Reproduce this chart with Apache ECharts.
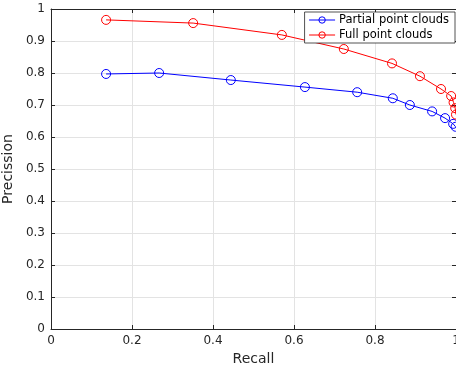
<!DOCTYPE html>
<html>
<head>
<meta charset="utf-8">
<script src="https://cdn.jsdelivr.net/npm/echarts@6/dist/echarts.min.js"></script>
<style>
  html, body { margin: 0; padding: 0; background: #fff; }
  #chart { width: 456px; height: 368px; }
</style>
</head>
<body>
<div id="chart"></div>
<script>
// values
var seriesNames = ["Partial point clouds", "Full point clouds"];
var recallPartial = [0.136, 0.267, 0.444, 0.627, 0.756, 0.844, 0.886, 0.941, 0.973, 0.993, 0.999];
var precisionPartial = [0.797, 0.800, 0.778, 0.756, 0.740, 0.721, 0.700, 0.680, 0.659, 0.641, 0.632];
var recallFull = [0.136, 0.351, 0.570, 0.723, 0.842, 0.911, 0.963, 0.988, 0.994, 0.998, 1.0];
var precisionFull = [0.966, 0.956, 0.919, 0.875, 0.830, 0.790, 0.750, 0.728, 0.708, 0.690, 0.670];
var xTickStep = 0.2;
var yTickStep = 0.1;

var axisColor = "#262626";
var font = "DejaVu Sans";

function pairs(xs, ys) {
    return xs.map(function (x, i) { return [x, ys[i]]; });
}

function baseAxis(extra) {
    var a = {
        type: "value",
        min: 0,
        max: 1,
        axisLine: { show: true, onZero: false, lineStyle: { color: axisColor, width: 1 } },
        axisTick: { show: true, inside: true, length: 4, lineStyle: { color: axisColor } },
        splitLine: { show: false },
        axisLabel: { show: false }
    };
    return Object.assign(a, extra);
}

var chart = echarts.init(document.getElementById("chart"), null, { renderer: "canvas" });

var option = {
    animation: false,
    backgroundColor: "#fff",
    textStyle: { fontFamily: font },
    grid: { left: 51, right: 0, top: 9, bottom: 39, containLabel: false, outerBoundsMode: "none" },
    legend: {
        data: seriesNames,
        orient: "vertical",
        right: 1,
        top: 12,
        itemWidth: 26,
        itemHeight: 8,
        itemGap: 3,
        padding: [2, 6, 2, 4],
        backgroundColor: "#fff",
        borderColor: axisColor,
        borderWidth: 0.8,
        borderRadius: 0,
        itemStyle: { borderWidth: 1, color: "rgba(255,255,255,0)" },
        lineStyle: { width: 1 },
        textStyle: { fontSize: 11.5, color: "#000", fontFamily: font, padding: [0, 0, 0, -1] }
    },
    xAxis: [
        baseAxis({
            position: "bottom",
            interval: xTickStep,
            name: "Recall",
            nameLocation: "middle",
            nameGap: 22,
            nameTextStyle: { fontSize: 14, color: axisColor, fontFamily: font },
            axisLabel: { show: true, color: axisColor, fontSize: 12, margin: 6, fontFamily: font },
            splitLine: { show: true, lineStyle: { color: "#e3e3e3", width: 1 } }
        }),
        baseAxis({ position: "top", interval: xTickStep })
    ],
    yAxis: [
        baseAxis({
            position: "left",
            interval: yTickStep,
            name: "Precission",
            nameLocation: "middle",
            nameGap: 26,
            nameTextStyle: { fontSize: 14, color: axisColor, fontFamily: font },
            axisLabel: { show: true, color: axisColor, fontSize: 12, margin: 6, fontFamily: font },
            splitLine: { show: true, lineStyle: { color: "#e3e3e3", width: 1 } }
        }),
        baseAxis({ position: "right", interval: yTickStep })
    ],
    series: [
        {
            name: seriesNames[0],
            type: "line",
            data: pairs(recallPartial, precisionPartial),
            symbol: "circle",
            symbolSize: 9,
            showAllSymbol: true,
            clip: true,
            itemStyle: { color: "rgba(255,255,255,0)", borderColor: "#0000ff", borderWidth: 1 },
            lineStyle: { color: "#0000ff", width: 1 }
        },
        {
            name: seriesNames[1],
            type: "line",
            data: pairs(recallFull, precisionFull),
            symbol: "circle",
            symbolSize: 9,
            showAllSymbol: true,
            clip: true,
            itemStyle: { color: "rgba(255,255,255,0)", borderColor: "#ff0000", borderWidth: 1 },
            lineStyle: { color: "#ff0000", width: 1 }
        }
    ]
};

chart.setOption(option);
</script>
</body>
</html>
